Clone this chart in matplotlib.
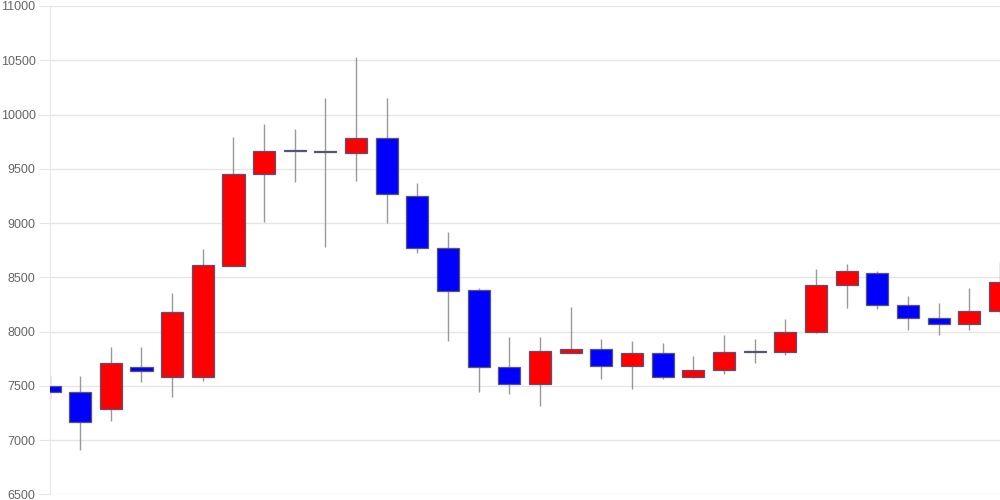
import matplotlib
matplotlib.use('Agg')
import matplotlib.pyplot as plt

# OHLC, left to right
opens = [7498, 7443, 7283, 7673, 7584, 7584, 8607, 9452, 9672, 9662,
         9648, 9784, 9252, 8773, 8383, 7673, 7514, 7805, 7836, 7683,
         7805, 7584, 7643, 7808, 7814, 7993, 8426, 8537, 8245, 8122,
         8067, 8186]
closes = [7440, 7164, 7707, 7633, 8177, 8613, 9455, 9664, 9665, 9655,
          9784, 9265, 8773, 8371, 7673, 7514, 7824, 7836, 7683, 7805,
          7584, 7646, 7809, 7818, 7993, 8426, 8555, 8245, 8122, 8067,
          8186, 8454]
highs = [7600, 7593, 7854, 7854, 8355, 8764, 9796, 9916, 9864, 10152,
         10530, 10152, 9372, 8917, 8401, 7953, 7953, 8226, 7931, 7913,
         7897, 7775, 7968, 7931, 8116, 8579, 8623, 8555, 8328, 8263,
         8401, 8641]
lows = [7376, 6912, 7176, 7535, 7400, 7541, 8600, 9013, 9381, 8782,
        9390, 9003, 8721, 7916, 7446, 7425, 7314, 7800, 7566, 7473,
        7566, 7570, 7612, 7713, 7784, 7984, 8214, 8205, 8014, 7965,
        8014, 8159]
yticks = [6500, 7000, 7500, 8000, 8500, 9000, 9500, 10000, 10500, 11000]

plt.rcParams['font.family'] = ['Liberation Sans', 'DejaVu Sans']

fig = plt.figure(figsize=(10, 5), dpi=100)
ax = fig.add_axes([0.0495, 0.0114, 0.9505, 0.9766])

x = list(range(len(opens)))
for i in x:
    o, c = opens[i], closes[i]
    col = 'red' if c >= o else 'blue'
    ax.vlines(i, lows[i], highs[i], color='#999999', linewidth=1, zorder=2)
    bottom = min(o, c)
    h = max(abs(c - o), 8)
    ax.bar(i, h, bottom=bottom, width=0.72, color=col,
           edgecolor='#555577', linewidth=0.9, zorder=3)

ax.set_xlim(0, len(opens) - 1)
ax.set_ylim(6500, 11000)
ax.set_yticks(yticks)
ax.set_yticklabels([str(t) for t in yticks])
ax.set_xticks([])
ax.grid(axis='y', color='#e6e6e6', linewidth=1)
ax.set_axisbelow(True)
for s in ['top', 'right', 'bottom']:
    ax.spines[s].set_visible(False)
ax.spines['left'].set_color('#e6e6e6')
ax.tick_params(axis='y', length=8, color='#e6e6e6', labelcolor='#666666',
               labelsize=9, pad=2)

fig.savefig('out.png', dpi=100)
